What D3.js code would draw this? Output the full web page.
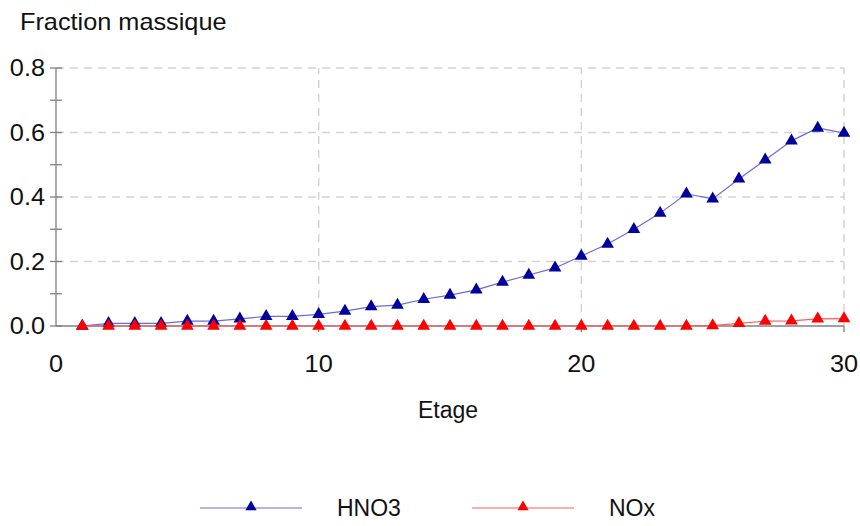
<!DOCTYPE html>
<html>
<head>
<meta charset="utf-8">
<script src="https://cdn.jsdelivr.net/npm/d3@7"></script>
<style>
  body { margin: 0; background: #fff; }
  svg text { font-family: "Liberation Sans", Arial, sans-serif; fill: #111; }
</style>
</head>
<body>
<svg id="chart" width="860" height="526"></svg>
<script>
// stages 1..30
const etages = d3.range(1, 31);
const hno3 = [0, 0.008, 0.008, 0.008, 0.015, 0.015, 0.022, 0.03, 0.03, 0.036,
              0.046, 0.06, 0.065, 0.083, 0.096, 0.112, 0.136, 0.158, 0.18, 0.217,
              0.254, 0.30, 0.35, 0.41, 0.394, 0.456, 0.515, 0.574, 0.614, 0.598];
const nox = [0, 0, 0, 0, 0, 0, 0, 0, 0, 0,
             0, 0, 0, 0, 0, 0, 0, 0, 0, 0,
             0, 0, 0, 0, 0.001, 0.008, 0.015, 0.016, 0.022, 0.023];
const xTicks = [0, 10, 20, 30];
const yTicks = [0, 0.2, 0.4, 0.6, 0.8];
const yMinor = [0.1, 0.3, 0.5, 0.7];

const series = [
    { name: "HNO3", values: hno3, line: "#6a6ad8", marker: "#00009c" },
    { name: "NOx", values: nox, line: "#ff5a5a", marker: "#ff0000" }
];

const svg = d3.select("#chart");
const x = d3.scaleLinear().domain([0, 30]).range([56, 844]);
const y = d3.scaleLinear().domain([0, 0.8]).range([326, 68]);

// text a bit wider than the font, like the original export
function wideText(px, py, str, anchor) {
    return svg.append("text")
        .attr("transform", `translate(${px},${py}) scale(1.1,1)`)
        .attr("text-anchor", anchor || "start")
        .attr("font-size", 23)
        .text(str);
}

// grid
const grid = svg.append("g")
    .attr("stroke", "#d4d4d4")
    .attr("stroke-width", 1.5)
    .attr("stroke-dasharray", "8,6");
grid.selectAll(".gy").data(yTicks.filter(d => d > 0)).enter().append("line")
    .attr("x1", x(0)).attr("x2", x(30))
    .attr("y1", d => y(d)).attr("y2", d => y(d));
grid.selectAll(".gx").data(xTicks.filter(d => d > 0)).enter().append("line")
    .attr("x1", d => x(d)).attr("x2", d => x(d))
    .attr("y1", y(0)).attr("y2", y(0.8));

// axes
const axisG = svg.append("g").attr("stroke", "#808080").attr("stroke-width", 1.3);
axisG.append("line").attr("x1", x(0)).attr("x2", x(0)).attr("y1", y(0.8)).attr("y2", y(0));
axisG.append("line").attr("x1", x(0)).attr("x2", x(30)).attr("y1", y(0)).attr("y2", y(0));
axisG.selectAll(".ty").data(yTicks).enter().append("line")
    .attr("x1", x(0) - 6).attr("x2", x(0) + 6)
    .attr("y1", d => y(d)).attr("y2", d => y(d));
axisG.selectAll(".tm").data(yMinor).enter().append("line")
    .attr("x1", x(0) - 6).attr("x2", x(0) + 6)
    .attr("y1", d => y(d)).attr("y2", d => y(d));
axisG.selectAll(".tx").data(xTicks.filter(d => d > 0)).enter().append("line")
    .attr("x1", d => x(d)).attr("x2", d => x(d))
    .attr("y1", y(0)).attr("y2", y(0) + 6);

// tick labels
yTicks.forEach(d => wideText(45, y(d) + 8, d.toFixed(1), "end"));
xTicks.forEach(d => wideText(x(d), 372, d, "middle"));

// titles
wideText(20, 30, "Fraction massique");
svg.append("text").attr("x", 448).attr("y", 418).attr("text-anchor", "middle")
    .attr("font-size", 23).text("Etage");

const tri = d3.symbol().type(d3.symbolTriangle).size(70);

// series
series.forEach(s => {
    const pts = etages.map((e, i) => [e, s.values[i]]);
    const line = d3.line().x(d => x(d[0])).y(d => y(d[1]));
    svg.append("path")
        .datum(pts)
        .attr("d", line)
        .attr("fill", "none")
        .attr("stroke", s.line)
        .attr("stroke-width", 1.2);
    svg.append("g").selectAll("path").data(pts).enter().append("path")
        .attr("d", tri)
        .attr("transform", d => `translate(${x(d[0])},${y(d[1])})`)
        .attr("fill", s.marker);
});

// legend
const legend = svg.append("g");
series.forEach((s, i) => {
    const lx = 200 + i * 272;
    const ly = 508;
    legend.append("line")
        .attr("x1", lx).attr("x2", lx + 102)
        .attr("y1", ly).attr("y2", ly)
        .attr("stroke", s.line).attr("stroke-width", 1.2);
    legend.append("path")
        .attr("d", d3.symbol().type(d3.symbolTriangle).size(55))
        .attr("transform", `translate(${lx + 51},${ly - 1})`)
        .attr("fill", s.marker);
    legend.append("text")
        .attr("x", lx + 137).attr("y", ly + 8)
        .attr("font-size", 23)
        .text(s.name);
});
</script>
</body>
</html>
